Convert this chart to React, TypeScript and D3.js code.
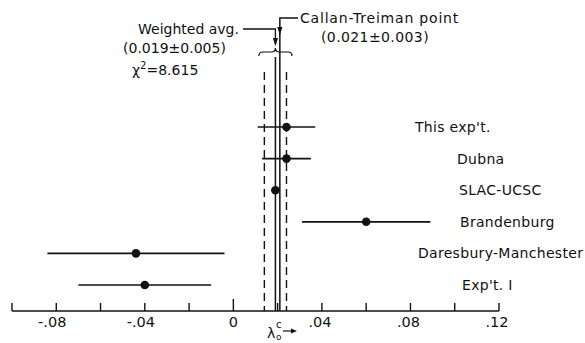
import React from "react";
import * as d3 from "d3";

// Experiments, measured λ0 values and their errors
const EXPERIMENTS = ["This exp't.", "Dubna", "SLAC-UCSC", "Brandenburg", "Daresbury-Manchester", "Exp't. I"];
const VALUES = [0.024, 0.024, 0.019, 0.060, -0.044, -0.040];
const ERRORS = [0.013, 0.011, 0.002, 0.029, 0.040, 0.030];

// Reference values
const WEIGHTED_AVG = 0.019;
const WEIGHTED_ERR = 0.005;
const CHI2 = 8.615;
const CALLAN_TREIMAN = 0.021;
const CALLAN_TREIMAN_ERR = 0.003;

// Axis ticks
const TICKS = [-0.1, -0.08, -0.06, -0.04, -0.02, 0, 0.02, 0.04, 0.06, 0.08, 0.1, 0.12];
const TICK_LABEL_VALUES = [-0.08, -0.04, 0, 0.04, 0.08, 0.12];
const TICK_LABELS = ["-.08", "-.04", "0", ".04", ".08", ".12"];

// Layout
const W = 585;
const H = 343;
const AXIS_Y = 311;
const LABEL_X = [415, 457, 459, 460, 418, 462];
const FONT = "'DejaVu Sans', sans-serif";
const INK = "#111";

function arrowDown(x: number, tipY: number) {
  return `M${x - 2.6},${tipY - 8} L${x + 2.6},${tipY - 8} L${x},${tipY} Z`;
}

function brace(x1: number, x2: number, y: number) {
  const mid = (x1 + x2) / 2;
  const h = 4;
  const r = 4;
  return [
    `M${x1},${y + h}`,
    `Q${x1},${y} ${x1 + r},${y}`,
    `L${mid - r},${y}`,
    `Q${mid},${y} ${mid},${y - h}`,
    `Q${mid},${y} ${mid + r},${y}`,
    `L${x2 - r},${y}`,
    `Q${x2},${y} ${x2},${y + h}`,
  ].join(" ");
}

export default function App() {
  const x = d3.scaleLinear().domain([-0.1, 0.12]).range([12, 499]);
  const y = d3.scalePoint<string>().domain(EXPERIMENTS).range([127, 285]);

  const xAvg = x(WEIGHTED_AVG);
  const xCT = x(CALLAN_TREIMAN);
  const xLo = x(WEIGHTED_AVG - WEIGHTED_ERR);
  const xHi = x(WEIGHTED_AVG + WEIGHTED_ERR);

  return (
    <svg
      width={W}
      height={H}
      viewBox={`0 0 ${W} ${H}`}
      style={{ position: "absolute", left: 0, top: 0, background: "#fff" }}
      fontFamily={FONT}
      fill={INK}
    >
      <rect x={0} y={0} width={W} height={H} fill="#fff" />

      {/* weighted average band (dashed) */}
      {[xLo, xHi].map((xv, i) => (
        <line key={`band${i}`} x1={xv} x2={xv} y1={72} y2={AXIS_Y} stroke={INK} strokeWidth={1.4} strokeDasharray="8,5" />
      ))}

      {/* weighted average line */}
      <line x1={xAvg} x2={xAvg} y1={57} y2={AXIS_Y} stroke={INK} strokeWidth={1.5} />
      {/* Callan-Treiman line */}
      <path d={`M298,18 L${xCT},18 L${xCT},${AXIS_Y}`} fill="none" stroke={INK} strokeWidth={1.5} />
      <path d={arrowDown(xCT, 35)} fill={INK} />

      {/* weighted average leader */}
      <path d={`M243,29 L${xAvg},29 L${xAvg},44`} fill="none" stroke={INK} strokeWidth={1.3} />
      <path d={arrowDown(xAvg, 46)} fill={INK} />

      {/* brace spanning the average's uncertainty */}
      <path
        d={brace(x(WEIGHTED_AVG - WEIGHTED_ERR * 1.5), x(WEIGHTED_AVG + WEIGHTED_ERR * 1.5), 52)}
        fill="none"
        stroke={INK}
        strokeWidth={1.2}
      />

      {/* annotations */}
      <text x={138} y={34} fontSize={14}>Weighted avg.</text>
      <text x={123} y={53} fontSize={14}>({WEIGHTED_AVG.toFixed(3)}±{WEIGHTED_ERR.toFixed(3)})</text>
      <text x={132} y={75} fontSize={14}>
        χ<tspan fontSize={10} dy={-6}>2</tspan>
        <tspan dy={6}>={CHI2.toFixed(3)}</tspan>
      </text>
      <text x={300} y={23} fontSize={14} letterSpacing={0.8}>Callan-Treiman point</text>
      <text x={375} y={42} fontSize={14} textAnchor="middle" letterSpacing={0.4}>
        ({CALLAN_TREIMAN.toFixed(3)}±{CALLAN_TREIMAN_ERR.toFixed(3)})
      </text>

      {/* error bars and points */}
      {EXPERIMENTS.map((name, i) => {
        const yy = y(name) as number;
        return (
          <g key={name}>
            <line
              x1={x(VALUES[i] - ERRORS[i])}
              x2={x(VALUES[i] + ERRORS[i])}
              y1={yy}
              y2={yy}
              stroke={INK}
              strokeWidth={1.7}
            />
            <circle cx={x(VALUES[i])} cy={yy} r={4.3} fill={INK} />
            <text x={LABEL_X[i]} y={yy + 5} fontSize={14} letterSpacing={0.3}>{name}</text>
          </g>
        );
      })}

      {/* x axis */}
      <line x1={x(-0.1)} x2={x(0.12)} y1={AXIS_Y} y2={AXIS_Y} stroke={INK} strokeWidth={1.6} />
      {TICKS.map((t) => (
        <line
          key={`t${t}`}
          x1={x(t)}
          x2={x(t)}
          y1={AXIS_Y}
          y2={AXIS_Y - (t === 0 ? 12 : 8)}
          stroke={INK}
          strokeWidth={1.4}
        />
      ))}
      {TICK_LABEL_VALUES.map((t, i) => {
        const label = TICK_LABELS[i];
        // digits are centred under the tick; sign and point hang to the left
        const prefix = label.startsWith("-.") ? 8 : label.startsWith(".") ? 4 : 0;
        return (
          <text key={`l${t}`} x={x(t) - prefix / 2} y={327} fontSize={14.5} textAnchor="middle">
            {label}
          </text>
        );
      })}

      {/* axis title: λ0^c → */}
      <text x={267} y={338} fontSize={14}>λ</text>
      <text x={276} y={328} fontSize={10}>c</text>
      <text x={276} y={340} fontSize={9}>o</text>
      <line x1={283} x2={293} y1={331} y2={331} stroke={INK} strokeWidth={1.2} />
      <path d="M297,331 L291,328.5 L291,333.5 Z" fill={INK} />
    </svg>
  );
}
